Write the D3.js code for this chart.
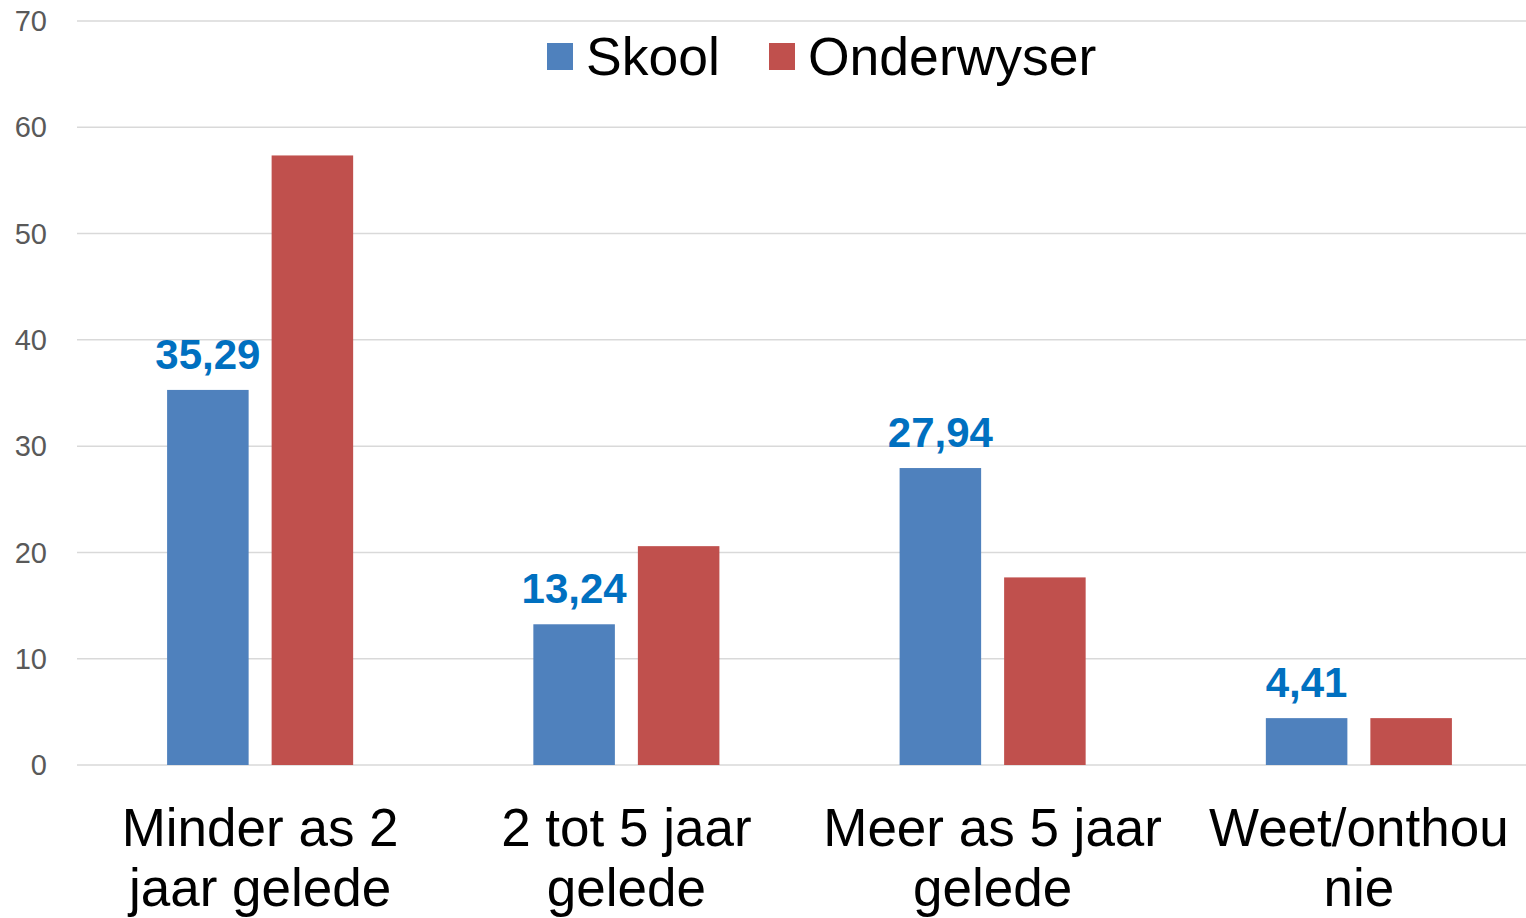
<!DOCTYPE html>
<meta charset="utf-8">
<title>Skool / Onderwyser</title>
<style>
  body { margin: 0; background: #fff; font-family: "Liberation Sans", Arial, sans-serif; }
  .grid line { stroke: #d9d9d9; stroke-width: 1.5; }
  .tick-label { fill: #595959; font-size: 29px; }
  .cat-label { fill: #000; font-size: 53px; }
  .val-label { fill: #0070c0; font-size: 42px; font-weight: bold; }
  .legend text { fill: #000; font-size: 53.5px; }
</style>
<body>
<script src="https://cdn.jsdelivr.net/npm/d3@7"></script>
<script>
  var categories = [["Minder as 2", "jaar gelede"], ["2 tot 5 jaar", "gelede"], ["Meer as 5 jaar", "gelede"], ["Weet/onthou", "nie"]];
  var series = ["Skool", "Onderwyser"];
  var skool = [35.29, 13.24, 27.94, 4.41];
  var onderwyser = [57.35, 20.59, 17.65, 4.41];
  var yTicks = [0, 10, 20, 30, 40, 50, 60, 70];
  var colors = ["#4f81bd", "#c0504d"];

  var width = 1526, height = 918;
  var plotLeft = 77, plotRight = 1542, plotTop = 21, plotBottom = 765;

  var svg = d3.select("body").append("svg")
      .attr("width", width)
      .attr("height", height);

  var keys = categories.map(function(d, i) { return i; });

  var x0 = d3.scaleBand().domain(keys).range([plotLeft, plotRight])
      .paddingInner(0.492).paddingOuter(0.246);
  var x1 = d3.scaleBand().domain(series).range([0, x0.bandwidth()])
      .paddingInner(0.22);
  var y = d3.scaleLinear().domain([0, 70]).range([plotBottom, plotTop]);
  var color = d3.scaleOrdinal().domain(series).range(colors);

  // gridlines + y labels
  var grid = svg.append("g").attr("class", "grid");
  grid.selectAll("line").data(yTicks).enter().append("line")
      .attr("x1", plotLeft).attr("x2", plotRight)
      .attr("y1", function(d) { return y(d); })
      .attr("y2", function(d) { return y(d); });

  svg.append("g").selectAll("text").data(yTicks).enter().append("text")
      .attr("class", "tick-label")
      .attr("x", 47)
      .attr("y", function(d) { return y(d); })
      .attr("dy", "0.35em")
      .attr("text-anchor", "end")
      .text(function(d) { return d; });

  var rows = keys.map(function(i) {
    return { i: i, values: [{ s: "Skool", v: skool[i] }, { s: "Onderwyser", v: onderwyser[i] }] };
  });

  var groups = svg.append("g").selectAll("g").data(rows).enter().append("g")
      .attr("transform", function(d) { return "translate(" + x0(d.i) + ",0)"; });

  groups.selectAll("rect").data(function(d) { return d.values; }).enter().append("rect")
      .attr("x", function(d) { return x1(d.s); })
      .attr("y", function(d) { return y(d.v); })
      .attr("width", x1.bandwidth())
      .attr("height", function(d) { return y(0) - y(d.v); })
      .attr("fill", function(d) { return color(d.s); });

  // data labels on Skool bars
  groups.append("text")
      .attr("class", "val-label")
      .attr("x", function(d) { return x1("Skool") + x1.bandwidth() / 2; })
      .attr("y", function(d) { return y(d.values[0].v) - 21; })
      .attr("text-anchor", "middle")
      .text(function(d) { return d3.format(".2f")(d.values[0].v).replace(".", ","); });

  // category labels
  var catText = svg.append("g").selectAll("text").data(keys).enter().append("text")
      .attr("class", "cat-label")
      .attr("text-anchor", "middle")
      .attr("x", function(d) { return x0(d) + x0.bandwidth() / 2; })
      .attr("y", 846);
  catText.selectAll("tspan").data(function(d) { return categories[d]; }).enter().append("tspan")
      .attr("x", function() { return d3.select(this.parentNode).attr("x"); })
      .attr("dy", function(d, i) { return i ? 60 : 0; })
      .text(function(d) { return d; });

  // legend
  var legend = svg.append("g").attr("class", "legend");
  var legX = [547, 769];
  series.forEach(function(s, i) {
    legend.append("rect")
        .attr("x", legX[i]).attr("y", 43)
        .attr("width", 26).attr("height", 27)
        .attr("fill", color(s));
    legend.append("text")
        .attr("x", legX[i] + 39).attr("y", 75)
        .text(s);
  });
</script>
</body>
